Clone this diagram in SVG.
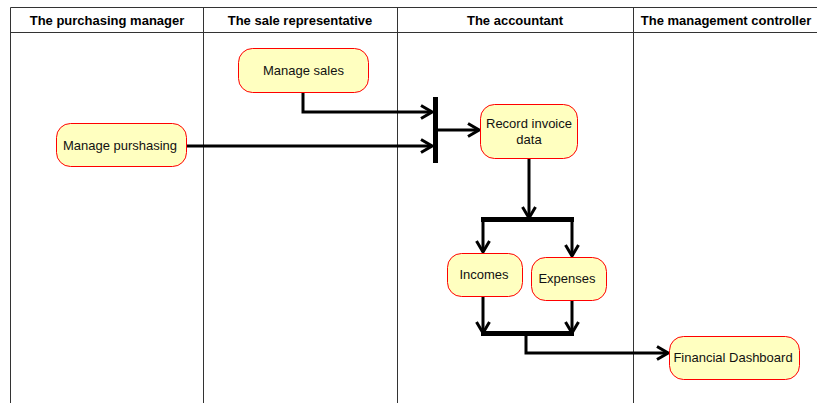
<svg xmlns="http://www.w3.org/2000/svg" width="817" height="403" viewBox="0 0 817 403">
  <style>
    .lane { fill: none; stroke: #333; stroke-width: 1; }
    .head { font-family: "Liberation Sans", Arial, sans-serif; font-size: 13px; font-weight: bold; fill: #000; text-anchor: middle; }
    .node rect { fill: #ffffc0; stroke: #ff0000; stroke-width: 1; }
    .node text { font-family: "Liberation Sans", Arial, sans-serif; font-size: 13px; fill: #111; text-anchor: middle; }
    .edge { fill: none; stroke: #000; stroke-width: 3; }
    .bar { fill: #000; }
  </style>
  <defs>
    <marker id="open" viewBox="0 0 13 16" refX="12" refY="8" markerWidth="13" markerHeight="16" markerUnits="userSpaceOnUse" orient="auto">
      <path d="M1,1.5 L12,8 L1,14.5" fill="none" stroke="#000" stroke-width="3"/>
    </marker>
  </defs>

  <rect width="817" height="403" fill="#fff"/>

  <!-- swimlanes -->
  <g id="lanes">
    <path class="lane" d="M10.5,403 V7.5 H817 M10.5,32.5 H817 M203.5,7.5 V403 M397.5,7.5 V403 M633.5,7.5 V403"/>
    <text class="head" x="107" y="25">The purchasing manager</text>
    <text class="head" x="300" y="25">The sale representative</text>
    <text class="head" x="515" y="25">The accountant</text>
    <text class="head" x="726" y="25">The management controller</text>
  </g>

  <!-- connectors -->
  <g id="connectors">
    <path class="edge" d="M303,92 V112 H432" marker-end="url(#open)"/>
    <path class="edge" d="M186,146 H432" marker-end="url(#open)"/>
    <path class="edge" d="M437,130 H479" marker-end="url(#open)"/>
    <path class="edge" d="M529,158 V218" marker-end="url(#open)"/>
    <path class="edge" d="M483,220 V252" marker-end="url(#open)"/>
    <path class="edge" d="M572,220 V256" marker-end="url(#open)"/>
    <path class="edge" d="M483,296 V333" marker-end="url(#open)"/>
    <path class="edge" d="M572,300 V333" marker-end="url(#open)"/>
    <path class="edge" d="M526,335 V353 H668" marker-end="url(#open)"/>
  </g>

  <!-- synchronisation bars -->
  <g id="join1"><rect class="bar" x="433" y="97" width="5" height="66"/></g>
  <g id="fork"><rect class="bar" x="481" y="217" width="93" height="5"/></g>
  <g id="join2"><rect class="bar" x="481" y="331" width="93" height="5"/></g>

  <!-- activities -->
  <g id="manage-sales" class="node">
    <rect x="238.5" y="48.5" width="130" height="44" rx="14"/>
    <text x="303.5" y="75">Manage sales</text>
  </g>
  <g id="manage-purshasing" class="node">
    <rect x="56.5" y="123.5" width="130" height="43" rx="14"/>
    <text x="120" y="150">Manage purshasing</text>
  </g>
  <g id="record-invoice" class="node">
    <rect x="480.5" y="104.5" width="97" height="54" rx="14"/>
    <text x="529" y="128">Record invoice</text>
    <text x="529" y="144">data</text>
  </g>
  <g id="incomes" class="node">
    <rect x="447.5" y="253.5" width="75" height="43" rx="14"/>
    <text x="484" y="279">Incomes</text>
  </g>
  <g id="expenses" class="node">
    <rect x="531.5" y="257.5" width="75" height="43" rx="14"/>
    <text x="567" y="283">Expenses</text>
  </g>
  <g id="financial-dashboard" class="node">
    <rect x="669.5" y="336.5" width="130" height="43" rx="14"/>
    <text x="733" y="362">Financial Dashboard</text>
  </g>
</svg>
